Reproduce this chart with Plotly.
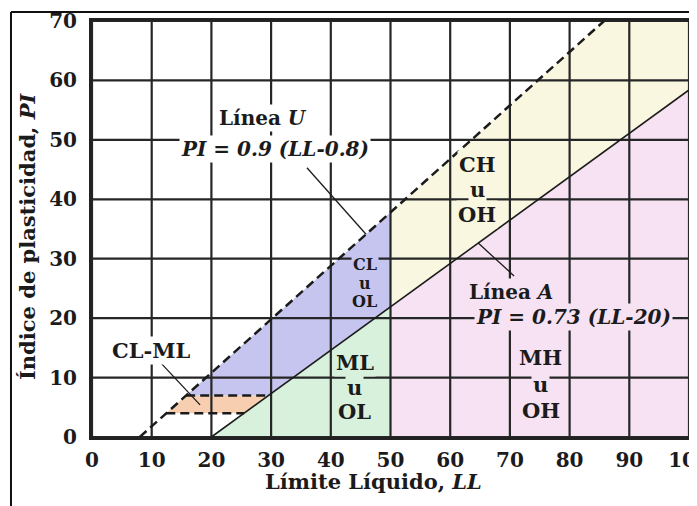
import plotly.graph_objects as go

# ---- data -------------------------------------------------------------
LL_TICKS = [0, 10, 20, 30, 40, 50, 60, 70, 80, 90, 100]
PI_TICKS = [0, 10, 20, 30, 40, 50, 60, 70]
LL_MAX = 100
PI_MAX = 70

U_SLOPE, U_X0 = 0.9, 8.0      # Línea U: PI = 0.9 (LL - 8)
A_SLOPE, A_X0 = 0.73, 20.0    # Línea A: PI = 0.73 (LL - 20)
CLML_LOW, CLML_HIGH = 4, 7    # CL-ML band
LL_SPLIT = 50                 # low / high plasticity limit

COL_BLUE = "#c6c5f0"
COL_PEACH = "#f7cfb0"
COL_GREEN = "#d8f1dc"
COL_YELLOW = "#f9f7df"
COL_PINK = "#f6e2f3"
INK = "#1b1b1b"
FONT = "DejaVu Serif"


def u_pi(ll):
    return U_SLOPE * (ll - U_X0)


def u_ll(pi):
    return pi / U_SLOPE + U_X0


def a_pi(ll):
    return A_SLOPE * (ll - A_X0)


def a_ll(pi):
    return pi / A_SLOPE + A_X0


fig = go.Figure()


def poly(xs, ys, color):
    fig.add_trace(go.Scatter(x=xs + [xs[0]], y=ys + [ys[0]], mode="lines",
                             fill="toself", fillcolor=color,
                             line=dict(width=0, color=color),
                             hoverinfo="skip", showlegend=False))


# regions
poly([u_ll(CLML_LOW), u_ll(CLML_HIGH), a_ll(CLML_HIGH), a_ll(CLML_LOW)],
     [CLML_LOW, CLML_HIGH, CLML_HIGH, CLML_LOW], COL_PEACH)
poly([u_ll(CLML_HIGH), a_ll(CLML_HIGH), LL_SPLIT, LL_SPLIT],
     [CLML_HIGH, CLML_HIGH, a_pi(LL_SPLIT), u_pi(LL_SPLIT)], COL_BLUE)
poly([A_X0, LL_SPLIT, LL_SPLIT], [0, 0, a_pi(LL_SPLIT)], COL_GREEN)
poly([LL_SPLIT, LL_SPLIT, u_ll(PI_MAX), LL_MAX, LL_MAX],
     [a_pi(LL_SPLIT), u_pi(LL_SPLIT), PI_MAX, PI_MAX, a_pi(LL_MAX)], COL_YELLOW)
poly([LL_SPLIT, LL_MAX, LL_MAX, LL_SPLIT],
     [0, 0, a_pi(LL_MAX), a_pi(LL_SPLIT)], COL_PINK)

# grid lines drawn over the fills
gx, gy = [], []
for t in LL_TICKS:
    gx += [t, t, None]
    gy += [0, PI_MAX, None]
for t in PI_TICKS:
    gx += [0, LL_MAX, None]
    gy += [t, t, None]
fig.add_trace(go.Scatter(x=gx, y=gy, mode="lines",
                         line=dict(color="#262626", width=2.2),
                         hoverinfo="skip", showlegend=False))

# U line (dashed) and A line (solid)
fig.add_trace(go.Scatter(x=[U_X0, u_ll(PI_MAX)], y=[0, PI_MAX], mode="lines",
                         line=dict(color=INK, width=2.5, dash="9px,5px"),
                         hoverinfo="skip", showlegend=False))
fig.add_trace(go.Scatter(x=[A_X0, LL_MAX], y=[0, a_pi(LL_MAX)], mode="lines",
                         line=dict(color=INK, width=1.6),
                         hoverinfo="skip", showlegend=False))
# CL-ML dashed bounds
for p in (CLML_LOW, CLML_HIGH):
    fig.add_trace(go.Scatter(x=[u_ll(p), a_ll(p)], y=[p, p], mode="lines",
                             line=dict(color=INK, width=2.5, dash="9px,5px"),
                             hoverinfo="skip", showlegend=False))

# leader lines
LEADERS = [
    ([36.0, 45.9], [45.3, u_pi(45.9)]),
    ([64.7, 70.7], [a_pi(64.7), 27.1]),
    ([11.4, 18.1], [12.6, 5.4]),
]
for lx, ly in LEADERS:
    fig.add_trace(go.Scatter(x=lx, y=ly, mode="lines",
                             line=dict(color=INK, width=1.3),
                             hoverinfo="skip", showlegend=False))

annotations = []


def label(x, y, text, size, bg):
    annotations.append(dict(x=x, y=y, xref="x", yref="y", text=text,
                            showarrow=False, bgcolor=bg, borderpad=1,
                            xanchor="center", yanchor="middle",
                            font=dict(family=FONT, size=size, color=INK,
                                      weight="bold")))


def stacked(x, ymid, step, lines, size, bg):
    n = len(lines)
    for i, t in enumerate(lines):
        label(x, ymid + step * ((n - 1) / 2 - i), t, size, bg)


label(28.6, 53.7, "Línea <i>U</i>", 20, "white")
label(30.7, 48.5, "<i>PI = 0.9 (LL-0.8)</i>", 20, "white")
label(70.2, 24.4, "Línea <i>A</i>", 20, COL_PINK)
label(80.7, 20.2, "<i>PI = 0.73 (LL-20)</i>", 20, COL_PINK)
label(9.9, 14.5, "CL-ML", 21, "white")
stacked(64.5, 41.65, 4.15, ["CH", "u", "OH"], 21, COL_YELLOW)
stacked(75.2, 8.9, 4.4, ["MH", "u", "OH"], 21, COL_PINK)
stacked(44.0, 8.4, 4.1, ["ML", "u", "OL"], 21, COL_GREEN)
stacked(45.7, 25.9, 3.1, ["CL", "u", "OL"], 16, COL_BLUE)

# axis titles
annotations.append(dict(x=0.4707, y=-0.107, xref="paper", yref="paper",
                        xanchor="center", yanchor="middle",
                        text="Límite Líquido, <i>LL</i>", showarrow=False,
                        font=dict(family=FONT, size=21, color=INK, weight="bold")))
annotations.append(dict(x=-0.109, y=0.483, xref="paper", yref="paper",
                        xanchor="center", yanchor="middle",
                        text="Índice de plasticidad, <i>PI</i>", showarrow=False,
                        textangle=-90,
                        font=dict(family=FONT, size=21, color=INK, weight="bold")))

# outer frame (top and left edges)
shapes = [
    dict(type="line", xref="paper", yref="paper", x0=-0.1357, x1=1.05,
         y0=1.0216, y1=1.0216, line=dict(color="#111", width=2)),
    dict(type="line", xref="paper", yref="paper", x0=-0.1357, x1=-0.1357,
         y0=1.0216, y1=-0.2, line=dict(color="#111", width=2)),
]

axis_common = dict(showgrid=False, zeroline=False, showline=True, mirror=True,
                   linecolor="#222", linewidth=3, ticks="", automargin=False,
                   ticklabeloverflow="allow",
                   tickfont=dict(family=FONT, size=20, color=INK, weight="bold"))

# page body has an 8px margin: size/margins chosen so the plot area lands
# at the same window position as in the reference
fig.update_layout(
    width=689, height=498,
    margin=dict(l=84, r=8, t=13, b=69),
    paper_bgcolor="white", plot_bgcolor="white",
    showlegend=False,
    xaxis=dict(range=[0, LL_MAX], tickvals=LL_TICKS, ticklabelstandoff=3,
               **axis_common),
    yaxis=dict(range=[0, PI_MAX], tickvals=PI_TICKS, ticklabelstandoff=8,
               **axis_common),
    annotations=annotations,
    shapes=shapes,
)

fig.write_html("out.html")
